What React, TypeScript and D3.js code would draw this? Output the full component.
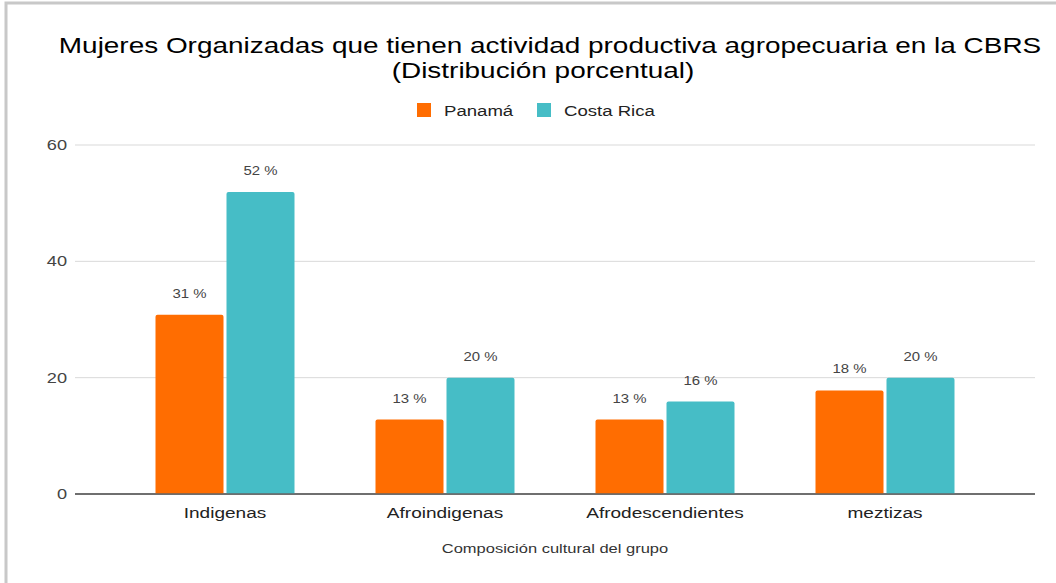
import React, { useEffect, useRef } from 'react';
import * as d3 from 'd3';

const categories = ['Indigenas', 'Afroindigenas', 'Afrodescendientes', 'meztizas'];
const seriesNames = ['Panamá', 'Costa Rica'];
const panama = [30.8, 12.8, 12.8, 17.8];
const costaRica = [51.9, 20, 15.9, 20];
const yTicks = [0, 20, 40, 60];
const colors = ['#ff6d01', '#46bdc6'];

const W = 1056;
const H = 583;
const FONT = '"Liberation Sans", Arial, sans-serif';
const SX = 1.27; // text in the picture is stretched horizontally

const App = () => {
  const svgRef = useRef<SVGSVGElement>(null);

  useEffect(() => {
    const svg = d3.select(svgRef.current);
    svg.selectAll('*').remove();

    const plot = { left: 75, right: 1035, top: 145, bottom: 494 };

    // Outer frame
    svg.append('rect')
      .attr('x', 6).attr('y', 3)
      .attr('width', W + 40).attr('height', H + 40)
      .attr('fill', '#fff')
      .attr('stroke', '#c8c8c8')
      .attr('stroke-width', 3);

    const txt = (x: number, y: number, s: string, size: number, fill: string, anchor = 'middle', sx = SX) => {
      svg.append('g')
        .attr('transform', `translate(${x},${y}) scale(${sx},1)`)
        .append('text')
        .attr('text-anchor', anchor)
        .attr('font-family', FONT)
        .attr('font-size', size)
        .attr('fill', fill)
        .text(s);
    };

    // Title
    txt(550, 53, 'Mujeres Organizadas que tienen actividad productiva agropecuaria en la CBRS', 22, '#000');
    txt(543, 78, '(Distribución porcentual)', 22, '#000');

    // Scales
    const y = d3.scaleLinear().domain([0, 60]).range([plot.bottom, plot.top]);
    const x0 = d3.scaleBand().domain(categories).range([115, 995]);
    const x1 = d3.scaleBand().domain(seriesNames).range([0, 139]).paddingInner(3 / 71);

    // Legend
    const legend = [
      { name: seriesNames[0], x: 417 },
      { name: seriesNames[1], x: 537 },
    ];
    legend.forEach((l, i) => {
      svg.append('rect')
        .attr('x', l.x).attr('y', 103)
        .attr('width', 14).attr('height', 14)
        .attr('fill', colors[i]);
      txt(l.x + 27, 116, l.name, 15, '#222', 'start', 1.24);
    });

    // Gridlines + y labels
    yTicks.forEach(t => {
      svg.append('line')
        .attr('x1', plot.left).attr('x2', plot.right)
        .attr('y1', y(t)).attr('y2', y(t))
        .attr('stroke', t === 0 ? '#666' : '#d9d9d9')
        .attr('stroke-width', t === 0 ? 1.6 : 1);
      txt(67, y(t) + 5, String(t), 14, '#444', 'end', 1.3);
    });

    // Bars
    const data = categories.map((c, i) => ({ cat: c, vals: [panama[i], costaRica[i]] }));
    data.forEach(d => {
      const gx = x0(d.cat)! + (x0.bandwidth() - 139) / 2;
      d.vals.forEach((v, j) => {
        const bx = gx + x1(seriesNames[j])!;
        const bw = x1.bandwidth();
        const top = y(v);
        svg.append('path')
          .attr('d', `M${bx},${y(0)}V${top + 2}Q${bx},${top} ${bx + 2},${top}H${bx + bw - 2}Q${bx + bw},${top} ${bx + bw},${top + 2}V${y(0)}Z`)
          .attr('fill', colors[j]);
        txt(bx + bw / 2, top - 17, `${d3.format('.0f')(v)} %`, 13, '#444', 'middle', 1.15);
      });
      txt(x0(d.cat)! + x0.bandwidth() / 2, 518, d.cat, 15, '#222');
    });

    // axis line on top of bars
    svg.append('line')
      .attr('x1', plot.left).attr('x2', plot.right)
      .attr('y1', y(0)).attr('y2', y(0))
      .attr('stroke', '#666')
      .attr('stroke-width', 1.6);

    // X axis title
    txt((plot.left + plot.right) / 2, 553, 'Composición cultural del grupo', 13, '#333');
  }, []);

  return (
    <svg
      ref={svgRef}
      width={W}
      height={H}
      style={{ position: 'absolute', left: 0, top: 0, display: 'block', background: '#fff' }}
    />
  );
};

export default App;
